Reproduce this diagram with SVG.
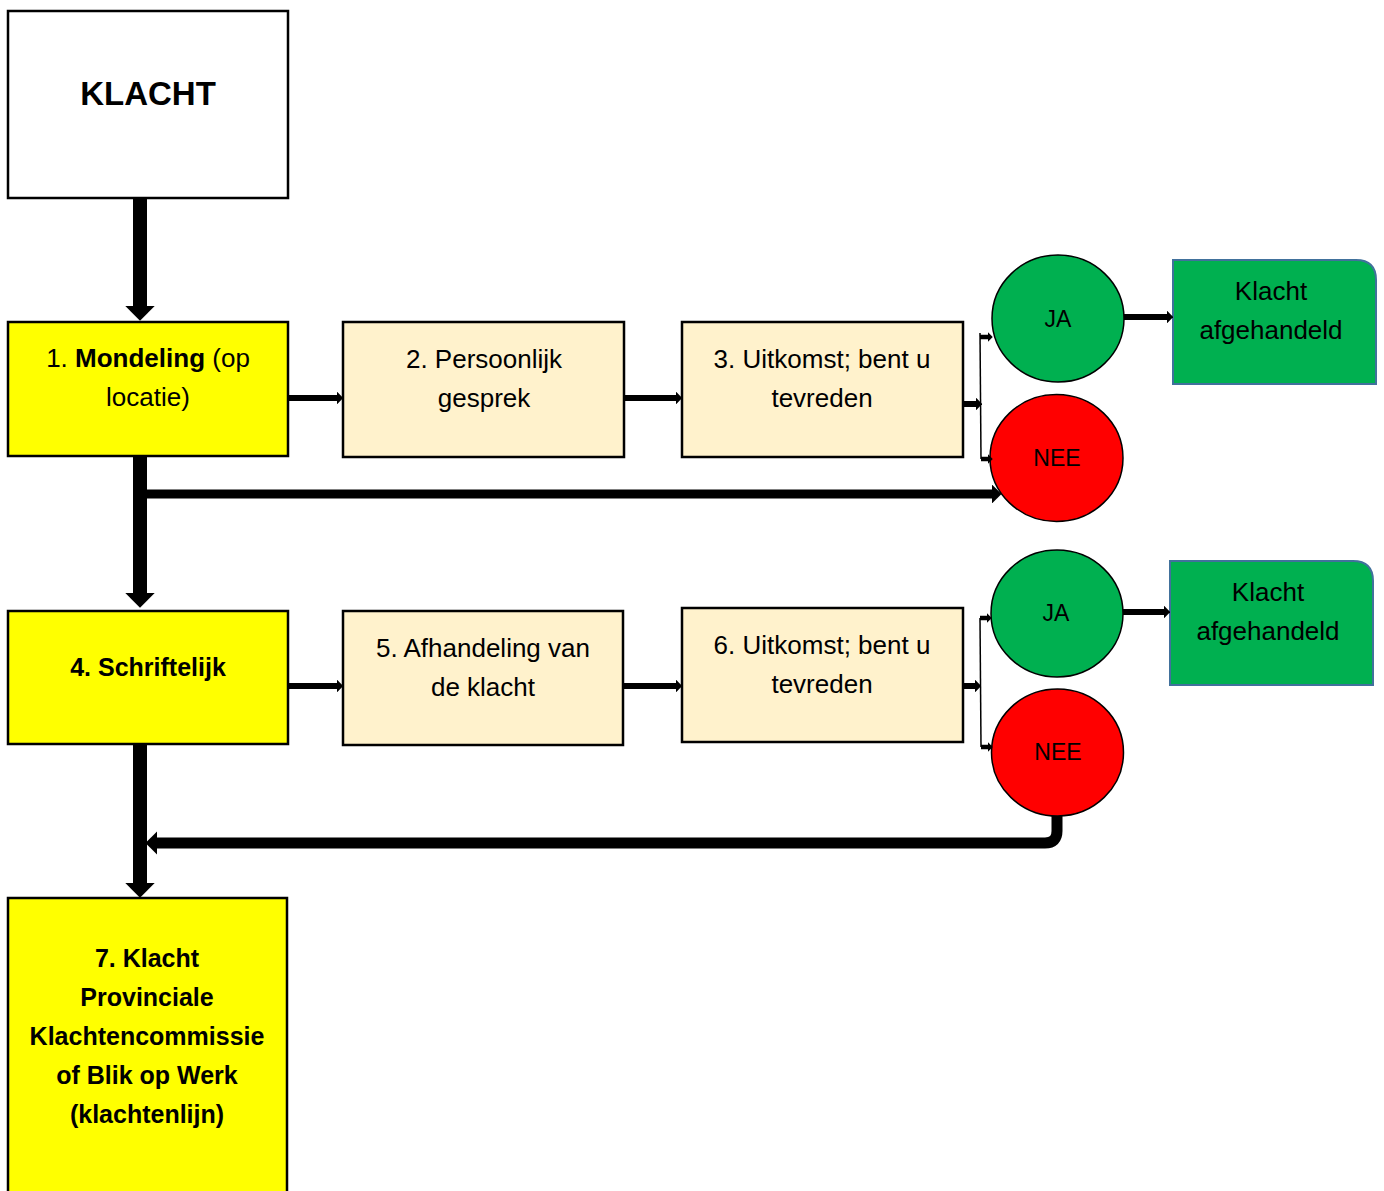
<svg xmlns="http://www.w3.org/2000/svg" width="1384" height="1191" viewBox="0 0 1384 1191">
<style>
.box{stroke:#000;stroke-width:2.5}
.yel{fill:#FFFF00}
.beige{fill:#FFF2CC}
.done{fill:#00B050;stroke:#41719C;stroke-width:2}
.circ{stroke:#000;stroke-width:1.5}
text{font-family:"Liberation Sans",Arial,sans-serif;fill:#000;text-anchor:middle}
.t{font-size:26px}
.b{font-size:25px;font-weight:bold}
.c{font-size:23px}
.con{fill:none;stroke:#000}
</style>
<defs>
<marker id="ah" viewBox="0 0 10 20" refX="0" refY="10" markerWidth="1.05" markerHeight="2.1" orient="auto" markerUnits="strokeWidth">
<path d="M0,0 L10,10 L0,20 z" fill="#000"/>
</marker>
</defs>
<g id="klacht"><rect class="box" x="8" y="11" width="280" height="187" fill="#fff"/><text x="148" y="105" style="font-size:33px;font-weight:bold">KLACHT</text></g>
<g id="n1"><rect class="box yel" x="8" y="322" width="280" height="134"/><text class="t" x="148" y="367">1. <tspan font-weight="bold">Mondeling</tspan> (op</text><text class="t" x="148" y="406">locatie)</text></g>
<g id="n2"><rect class="box beige" x="343" y="322" width="281" height="135"/><text class="t" x="484" y="368">2. Persoonlijk</text><text class="t" x="484" y="407">gesprek</text></g>
<g id="n3"><rect class="box beige" x="682" y="322" width="281" height="135"/><text class="t" x="822" y="368">3. Uitkomst; bent u</text><text class="t" x="822" y="407">tevreden</text></g>
<g id="ja1"><ellipse class="circ" cx="1058" cy="318.5" rx="66" ry="63.5" fill="#00B050"/><text class="c" x="1058" y="327">JA</text></g>
<g id="nee1"><ellipse class="circ" cx="1056.5" cy="458" rx="66.5" ry="63.5" fill="#FF0000"/><text class="c" x="1057" y="466">NEE</text></g>
<g id="done1"><path class="done" d="M1173,260 H1356 Q1376,260 1376,280 V384 H1173 Z"/><text class="t" x="1271" y="300">Klacht</text><text class="t" x="1271" y="339">afgehandeld</text></g>
<g id="n4"><rect class="box yel" x="8" y="611" width="280" height="133"/><text class="b" x="148" y="676">4. Schriftelijk</text></g>
<g id="n5"><rect class="box beige" x="343" y="611" width="280" height="134"/><text class="t" x="483" y="657">5. Afhandeling van</text><text class="t" x="483" y="696">de klacht</text></g>
<g id="n6"><rect class="box beige" x="682" y="608" width="281" height="134"/><text class="t" x="822" y="654">6. Uitkomst; bent u</text><text class="t" x="822" y="693">tevreden</text></g>
<g id="ja2"><ellipse class="circ" cx="1057" cy="613.5" rx="66" ry="63.5" fill="#00B050"/><text class="c" x="1056" y="621">JA</text></g>
<g id="nee2"><ellipse class="circ" cx="1057.5" cy="752.5" rx="66" ry="63.5" fill="#FF0000"/><text class="c" x="1058" y="760">NEE</text></g>
<g id="done2"><path class="done" d="M1170,561 H1353 Q1373,561 1373,581 V685 H1170 Z"/><text class="t" x="1268" y="601">Klacht</text><text class="t" x="1268" y="640">afgehandeld</text></g>
<g id="n7"><rect class="box yel" x="8" y="898" width="279" height="300"/><text class="b" x="147" y="967">7. Klacht</text><text class="b" x="147" y="1006">Provinciale</text><text class="b" x="147" y="1045">Klachtencommissie</text><text class="b" x="147" y="1084">of Blik op Werk</text><text class="b" x="147" y="1123">(klachtenlijn)</text></g>
<g id="connectors">
<line class="con" x1="140" y1="198" x2="140" y2="306" stroke-width="14" marker-end="url(#ah)"/>
<line class="con" x1="288" y1="398" x2="337" y2="398" stroke-width="6" marker-end="url(#ah)"/>
<line class="con" x1="624" y1="398" x2="676" y2="398" stroke-width="6" marker-end="url(#ah)"/>
<line class="con" x1="963" y1="404" x2="976" y2="404" stroke-width="6" marker-end="url(#ah)"/>
<line class="con" x1="980" y1="333" x2="981" y2="459" stroke-width="1.5"/>
<line class="con" x1="980" y1="337" x2="988" y2="337" stroke-width="4.5" marker-end="url(#ah)"/>
<line class="con" x1="981" y1="459" x2="988" y2="459" stroke-width="4.5" marker-end="url(#ah)"/>
<line class="con" x1="1124" y1="317" x2="1167" y2="317" stroke-width="6" marker-end="url(#ah)"/>
<line class="con" x1="140" y1="456" x2="140" y2="593" stroke-width="14" marker-end="url(#ah)"/>
<line class="con" x1="146" y1="494" x2="992" y2="494" stroke-width="9" marker-end="url(#ah)"/>
<line class="con" x1="288" y1="686" x2="337" y2="686" stroke-width="6" marker-end="url(#ah)"/>
<line class="con" x1="623" y1="686" x2="676" y2="686" stroke-width="6" marker-end="url(#ah)"/>
<line class="con" x1="963" y1="686" x2="975" y2="686" stroke-width="6" marker-end="url(#ah)"/>
<line class="con" x1="980" y1="618" x2="981" y2="747" stroke-width="1.5"/>
<line class="con" x1="980" y1="618" x2="987" y2="618" stroke-width="4.5" marker-end="url(#ah)"/>
<line class="con" x1="981" y1="747" x2="988" y2="747" stroke-width="4.5" marker-end="url(#ah)"/>
<line class="con" x1="1123" y1="612" x2="1164" y2="612" stroke-width="6" marker-end="url(#ah)"/>
<line class="con" x1="140" y1="744" x2="140" y2="883" stroke-width="14" marker-end="url(#ah)"/>
<path class="con" d="M1057,816 V831 Q1057,843 1045,843 H157" stroke-width="11" marker-end="url(#ah)"/>
</g>
</svg>
